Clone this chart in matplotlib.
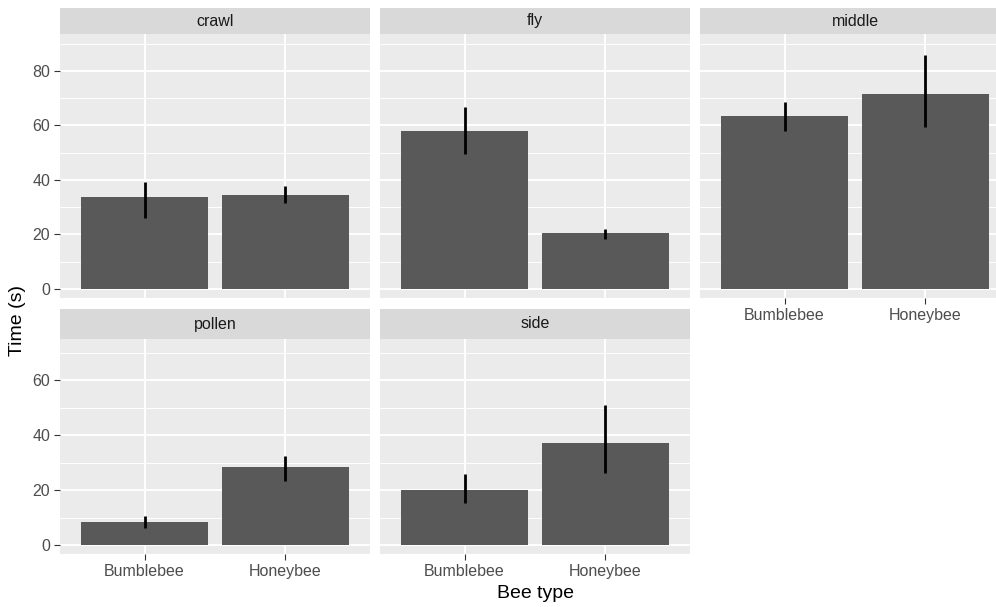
import matplotlib
matplotlib.use("Agg")
import matplotlib.pyplot as plt
import numpy as np

plt.rcParams["font.family"] = ["Liberation Sans", "DejaVu Sans"]

behaviours = ["crawl", "fly", "middle", "pollen", "side"]
bee_types = ["Bumblebee", "Honeybee"]
mean_time = {
    "crawl": [33.6, 34.6],
    "fly": [57.9, 20.4],
    "middle": [63.5, 71.6],
    "pollen": [8.3, 28.4],
    "side": [20.2, 37.1],
}
err_low = {
    "crawl": [26.0, 31.5],
    "fly": [49.5, 18.4],
    "middle": [58.1, 59.4],
    "pollen": [6.0, 23.4],
    "side": [15.2, 26.2],
}
err_high = {
    "crawl": [39.1, 37.9],
    "fly": [66.9, 22.0],
    "middle": [68.5, 85.9],
    "pollen": [10.6, 32.3],
    "side": [25.8, 50.9],
}
top_ticks = [0, 20, 40, 60, 80]
bottom_ticks = [0, 20, 40, 60]

W, H = 996, 607
fig = plt.figure(figsize=(W / 100, H / 100), dpi=100)

col_x = [60, 380, 700]
col_w = 310
rows = {
    0: dict(top=34, bottom=298, strip=(8, 34), ylim=(-3.3, 93.5), ticks=top_ticks),
    1: dict(top=339, bottom=554, strip=(309, 339), ylim=(-3.3, 75.1), ticks=bottom_ticks),
}

tick_col = "#4D4D4D"

for i, name in enumerate(behaviours):
    r, c = divmod(i, 3)
    row = rows[r]
    x0 = col_x[c]
    ax = fig.add_axes([x0 / W, 1 - row["bottom"] / H, col_w / W,
                       (row["bottom"] - row["top"]) / H])
    ax.set_facecolor("#EBEBEB")
    for s in ax.spines.values():
        s.set_visible(False)

    xpos = np.arange(1, len(bee_types) + 1)
    ax.bar(xpos, mean_time[name], width=0.9, color="#595959", zorder=3)
    ax.vlines(xpos, err_low[name], err_high[name], color="black", lw=2.0, zorder=4)

    ax.set_xlim(0.4, 2.6)
    ax.set_ylim(*row["ylim"])
    ax.set_yticks(row["ticks"])
    ax.set_yticks([t + 10 for t in row["ticks"]], minor=True)
    ax.set_xticks(xpos)
    ax.grid(which="major", color="white", lw=1.4, zorder=0)
    ax.grid(which="minor", axis="y", color="white", lw=0.7, zorder=0)
    ax.set_axisbelow(True)

    ax.tick_params(which="minor", length=0)
    ax.tick_params(which="major", length=4, width=0.8, color="#333333",
                   labelsize=11.5, labelcolor=tick_col, pad=3)

    show_x = (name in ("middle", "pollen", "side"))
    if show_x:
        ax.set_xticklabels(bee_types)
    else:
        ax.tick_params(axis="x", length=0, labelbottom=False)
    if c == 0:
        ax.set_yticklabels([str(t) for t in row["ticks"]])
    else:
        ax.tick_params(axis="y", length=0, labelleft=False)

    # facet strip
    s0, s1 = row["strip"]
    sax = fig.add_axes([x0 / W, 1 - s1 / H, col_w / W, (s1 - s0) / H])
    sax.set_facecolor("#D9D9D9")
    sax.set_xticks([])
    sax.set_yticks([])
    for s in sax.spines.values():
        s.set_visible(False)
    sax.text(0.5, 0.5, name, ha="center", va="center", fontsize=11.5,
             color="#1A1A1A", transform=sax.transAxes)

fig.text(535 / W, 1 - 593 / H, "Bee type", ha="center", va="center", fontsize=14)
fig.text(18 / W, 1 - 320 / H, "Time (s)", ha="center", va="center",
         rotation=90, fontsize=14)

fig.savefig("out.png", dpi=100, facecolor="white")
